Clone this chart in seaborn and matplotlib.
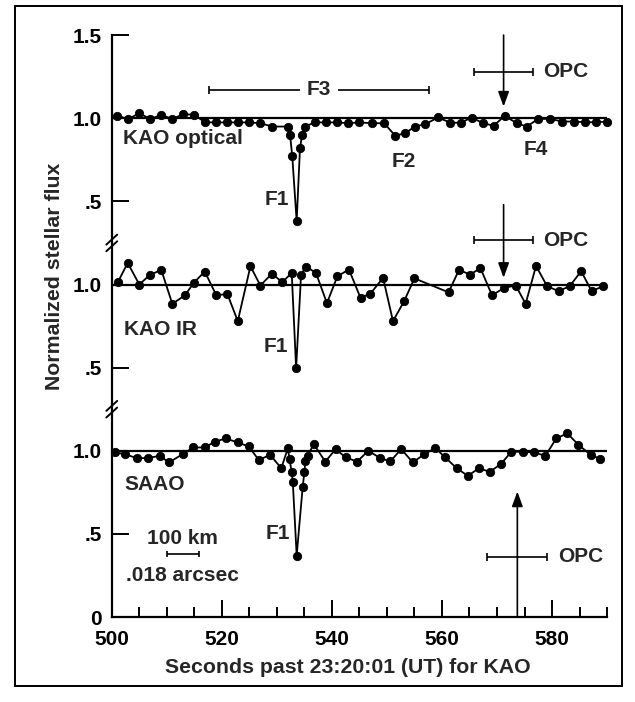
import numpy as np
import pandas as pd
import matplotlib
matplotlib.use("Agg")
import matplotlib.pyplot as plt
import matplotlib.transforms as mtransforms
from matplotlib.patches import Rectangle
import seaborn as sns

# Normalized stellar flux, time in seconds past 23:20:01 UT (KAO)
kao_opt_t = [501, 503, 505, 507, 509, 511, 513, 515, 517, 519, 521, 523, 525, 527,
             529.2, 532.1, 532.4, 532.8, 533.6, 534.2, 534.6, 535.1, 536.9, 539, 541,
             543, 545, 547.2, 549.5, 551.5, 553.3, 555.1, 557, 559.3, 561.5, 563.4,
             565.4, 567.5, 569.4, 571.4, 573.6, 575.4, 577.5, 579.7, 581.9, 584, 586,
             588, 590]
kao_opt_f = [1.015, 0.995, 1.03, 0.995, 1.02, 0.995, 1.025, 1.02, 0.975, 0.975, 0.975,
             0.975, 0.975, 0.97, 0.95, 0.95, 0.90, 0.77, 0.38, 0.82, 0.90, 0.95, 0.975,
             0.975, 0.975, 0.97, 0.975, 0.97, 0.97, 0.895, 0.91, 0.95, 0.965, 1.005,
             0.973, 0.973, 1.004, 0.97, 0.955, 1.014, 0.97, 0.95, 0.996, 0.996, 0.98,
             0.98, 0.976, 0.976, 0.98]

kao_ir_t = [501.1, 502.9, 505.0, 506.9, 509.0, 511.0, 513.3, 514.9, 516.9, 519.0,
            521.0, 522.9, 525.2, 527.0, 529.1, 531.0, 532.7, 533.5, 534.4, 535.3,
            537.1, 539.1, 541.0, 543.1, 545.2, 547.0, 549.3, 551.1, 553.1, 555.0,
            561.2, 563.1, 565.1, 567.0, 569.1, 571.3, 573.4, 575.2, 577.1, 579.1,
            581.2, 583.2, 585.3, 587.2, 589.3]
kao_ir_f = [1.014, 1.13, 1.0, 1.057, 1.088, 0.884, 0.935, 1.01, 1.078, 0.935,
            0.943, 0.78, 1.11, 0.994, 1.065, 1.014, 1.07, 0.496, 1.06, 1.108,
            1.07, 0.888, 1.05, 1.09, 0.92, 0.945, 1.04, 0.78, 0.898, 1.037,
            0.953, 1.088, 1.06, 1.098, 0.935, 0.98, 0.994, 0.884, 1.112, 0.99,
            0.96, 0.99, 1.08, 0.96, 0.99]

saao_t = [500.6, 502.4, 504.5, 506.6, 508.7, 510.4, 512.9, 514.8, 516.9, 518.7,
          520.7, 522.9, 524.9, 526.7, 528.8, 530.8, 532.0, 532.3, 532.7, 532.9,
          533.6, 534.7, 535.0, 535.2, 535.6, 536.7, 538.8, 540.7, 542.5, 544.6,
          546.6, 548.8, 550.6, 552.6, 554.7, 556.8, 558.8, 560.6, 562.7, 564.7,
          566.7, 568.7, 570.7, 572.6, 574.7, 576.7, 578.8, 580.8, 582.8, 584.8,
          587.0, 588.8]
saao_f = [0.99, 0.98, 0.956, 0.956, 0.97, 0.93, 0.98, 1.02, 1.02, 1.054,
          1.074, 1.05, 1.026, 0.945, 0.975, 0.895, 1.015, 0.95, 0.87, 0.81,
          0.37, 0.785, 0.87, 0.94, 0.97, 1.04, 0.935, 1.01, 0.96, 0.935,
          1.0, 0.956, 0.936, 1.01, 0.93, 0.98, 1.016, 0.96, 0.894, 0.85,
          0.894, 0.874, 0.92, 0.994, 0.994, 0.99, 0.97, 1.076, 1.104, 1.036,
          0.976, 0.95]

stations = ["KAO optical", "KAO IR", "SAAO"]
station_offset = [2.0, 1.0, 0.0]          # vertical stacking of the curves

# Occultation predicted centre (OPC) time and its uncertainty per curve
opc_time = [571.2, 571.2, 573.7]
opc_err = [5.3, 5.3, 5.45]

# Feature F3 interval (centre, half width)
f3_center, f3_half = 537.6, 20.0

yticks = [0, 0.5, 1.0, 1.5, 2.0, 2.5, 3.0, 3.5]
ytick_labels = ["0", ".5", "1.0", ".5", "1.0", ".5", "1.0", "1.5"]
xticks_major = [500, 520, 540, 560, 580]
xticks_minor = [505, 510, 515, 525, 530, 535, 545, 550, 555, 565, 570, 575, 585, 590]

sns.set_theme(style="ticks")
plt.rcParams["font.family"] = ["Liberation Sans", "DejaVu Sans"]
plt.rcParams["font.weight"] = "bold"

fig = plt.figure(figsize=(6.35, 7.02), dpi=100)
ax = fig.add_axes([0.176, 0.121, 0.780, 0.829])

frames = []
for name, off, t, f in zip(stations, station_offset,
                           [kao_opt_t, kao_ir_t, saao_t],
                           [kao_opt_f, kao_ir_f, saao_f]):
    frames.append(pd.DataFrame({"t": t, "flux": np.asarray(f) + off, "station": name}))
df = pd.concat(frames, ignore_index=True)

sns.lineplot(data=df, x="t", y="flux", units="station", estimator=None,
             color="black", lw=1.3, marker="o", markersize=6,
             markeredgecolor="black", markeredgewidth=0.6, ax=ax, legend=False)
for ln in ax.lines:
    ln.set_clip_on(False)

for off in station_offset:
    ax.axhline(off + 1.0, color="black", lw=1.6, zorder=1)

ax.set_xlim(500, 590)
ax.set_ylim(0, 3.5)
ax.set_xticks(xticks_major)
ax.set_xticks(xticks_minor, minor=True)
ax.set_yticks(yticks)
ax.set_yticklabels(ytick_labels)
ax.tick_params(axis="both", which="both", direction="in", width=1.4, colors="black",
               labelsize=15)
ax.tick_params(axis="y", length=12, pad=7)
ax.tick_params(axis="x", which="major", length=12, pad=9)
ax.tick_params(axis="x", which="minor", length=7)
for lab in ax.get_xticklabels() + ax.get_yticklabels():
    lab.set_fontweight("bold")

sns.despine(ax=ax)
for s in ("left", "bottom"):
    ax.spines[s].set_linewidth(1.6)
    ax.spines[s].set_color("black")

ax.set_xlabel("Seconds past 23:20:01 (UT) for KAO", fontsize=15.3, fontweight="bold")
ax.set_ylabel("Normalized stellar flux", fontsize=15.3, fontweight="bold")
ax.xaxis.set_label_coords(0.477, -0.071)
ax.yaxis.set_label_coords(-0.097, 0.586)

# axis breaks between the stacked curves
btrans = mtransforms.blended_transform_factory(ax.transAxes, ax.transData)
for yb in (2.25, 1.25):
    for d in (-0.02, 0.02):
        ax.plot([-0.011, 0.011], [yb + d - 0.03, yb + d + 0.03], transform=btrans,
                color="black", lw=1.4, clip_on=False)

# OPC markers: time uncertainty bar plus arrow to the curve
opc_y = [3.28, 2.267, 0.363]
arrow_from = [3.5, 2.48, 0.0]
arrow_to = [3.07, 2.04, 0.755]
for tc, te, yb, y0, y1 in zip(opc_time, opc_err, opc_y, arrow_from, arrow_to):
    ax.errorbar(tc, yb, xerr=te, color="black", lw=1.2, capsize=3, capthick=1.2,
                fmt="none", clip_on=False)
    ax.annotate("", xy=(tc, y1), xytext=(tc, y0),
                arrowprops=dict(arrowstyle="-|>,head_length=0.6,head_width=0.22",
                                color="black", lw=1.2, mutation_scale=15,
                                shrinkA=0, shrinkB=0))
    ax.text(tc + te + 1.9, yb, "OPC", fontsize=15, fontweight="bold",
            ha="left", va="center")

# F3 interval
ax.errorbar(f3_center, 3.17, xerr=f3_half, color="black", lw=1.2, capsize=3,
            capthick=1.2, fmt="none")
ax.text(f3_center, 3.17, "F3", fontsize=15, fontweight="bold", ha="center",
        va="center", bbox=dict(facecolor="white", edgecolor="none", pad=5))

lab_kw = dict(fontsize=15, fontweight="bold", va="center")
ax.text(502.1, 2.88, "KAO optical", ha="left", **lab_kw)
ax.text(530.0, 2.51, "F1", ha="center", **lab_kw)
ax.text(553.0, 2.74, "F2", ha="center", **lab_kw)
ax.text(577.0, 2.81, "F4", ha="center", **lab_kw)
ax.text(502.2, 1.73, "KAO IR", ha="left", **lab_kw)
ax.text(529.8, 1.63, "F1", ha="center", **lab_kw)
ax.text(502.3, 0.80, "SAAO", ha="left", **lab_kw)
ax.text(530.2, 0.50, "F1", ha="center", **lab_kw)

# distance / angular scale bar
scale_center, scale_half = 512.9, 2.9
ax.errorbar(scale_center, 0.38, xerr=scale_half, color="black", lw=1.2, capsize=2.5,
            capthick=1.2, fmt="none")
ax.text(scale_center, 0.472, "100 km", ha="center", **lab_kw)
ax.text(scale_center, 0.25, ".018 arcsec", ha="center", **lab_kw)

# page frame
fig.add_artist(Rectangle((15 / 635, 1 - 686 / 702), (622 - 15) / 635, (686 - 6) / 702,
                         transform=fig.transFigure, fill=False, lw=1.4,
                         edgecolor="black"))

fig.savefig("out.png", dpi=100, facecolor="white")
